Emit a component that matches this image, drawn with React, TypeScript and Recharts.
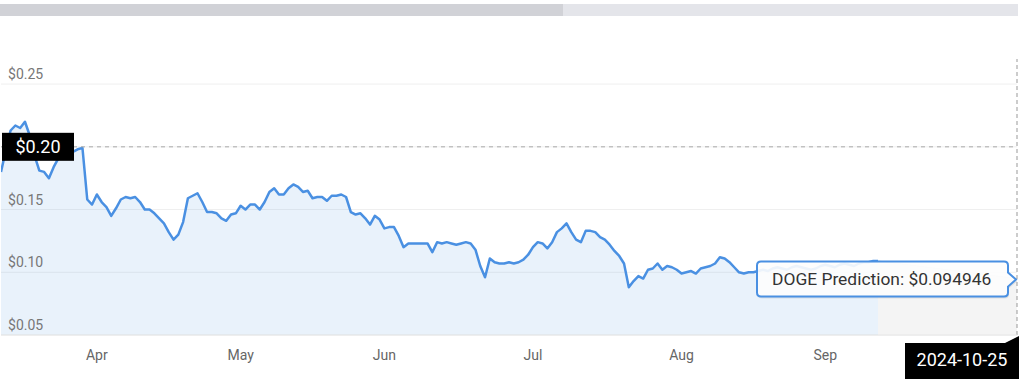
import React from "react";
import {
  Area,
  CartesianGrid,
  ComposedChart,
  ReferenceDot,
  ReferenceLine,
  XAxis,
  YAxis,
} from "recharts";

// daily DOGE closes, starting 2024-03-27
const START_DATE = "2024-03-27";
const END_DATE = "2024-10-25";

const prices = [
  0.180, 0.197, 0.213, 0.217, 0.215, 0.220, 0.209, 0.193, 0.181, 0.180,
  0.175, 0.184, 0.191, 0.193, 0.197, 0.196, 0.198, 0.199, 0.158, 0.154,
  0.162, 0.156, 0.152, 0.145, 0.151, 0.158, 0.160, 0.159, 0.160, 0.156,
  0.150, 0.150, 0.147, 0.143, 0.139, 0.132, 0.126, 0.130, 0.140, 0.159,
  0.161, 0.163, 0.156, 0.148, 0.148, 0.147, 0.143, 0.141, 0.146, 0.147,
  0.153, 0.150, 0.154, 0.154, 0.150, 0.156, 0.164, 0.167, 0.162, 0.162,
  0.167, 0.170, 0.168, 0.164, 0.165, 0.159, 0.160, 0.160, 0.157, 0.161,
  0.161, 0.162, 0.160, 0.148, 0.146, 0.147, 0.143, 0.138, 0.145, 0.142,
  0.135, 0.136, 0.136, 0.129, 0.120, 0.123, 0.123, 0.123, 0.123, 0.123,
  0.116, 0.124, 0.123, 0.124, 0.123, 0.122, 0.123, 0.124, 0.123, 0.118,
  0.105, 0.096, 0.111, 0.108, 0.107, 0.107, 0.108, 0.107, 0.108, 0.110,
  0.114, 0.120, 0.124, 0.123, 0.119, 0.124, 0.132, 0.135, 0.139, 0.132,
  0.126, 0.124, 0.133, 0.133, 0.132, 0.128, 0.126, 0.122, 0.117, 0.113,
  0.107, 0.088, 0.093, 0.097, 0.095, 0.102, 0.103, 0.107, 0.102, 0.105,
  0.104, 0.102, 0.099, 0.100, 0.101, 0.099, 0.103, 0.104, 0.105, 0.107,
  0.112, 0.111, 0.108, 0.104, 0.100, 0.099, 0.100, 0.100, 0.101, 0.102,
  0.101, 0.103, 0.104, 0.103, 0.102, 0.104, 0.105, 0.104, 0.103, 0.102,
  0.103, 0.105, 0.106, 0.105, 0.104, 0.106, 0.107, 0.106, 0.105, 0.107,
  0.108, 0.108, 0.109, 0.109,
];

// forecast segment (grey band behind the prediction bubble)
const forecastDates = ["2024-09-26", "2024-10-25"];
const forecastValues = [0.109, 0.094946];

const monthTicks = ["2024-04-16", "2024-05-16", "2024-06-15", "2024-07-16", "2024-08-16", "2024-09-15"];
const monthLabels = ["Apr", "May", "Jun", "Jul", "Aug", "Sep"];
const priceTicks = [0.05, 0.1, 0.15, 0.2, 0.25];

const PREDICTION = 0.094946;
const CROSSHAIR_PRICE = 0.2;

const DAY = 86400000;
const ts = (d: string) => Date.parse(d + "T00:00:00Z");
const startTs = ts(START_DATE);
const endTs = ts(END_DATE);

const data: { t: number; price?: number; forecast?: number }[] = prices.map((p, i) => ({
  t: startTs + i * DAY,
  price: p,
}));
forecastDates.forEach((d, i) => {
  const t = ts(d);
  const row = data.find((r) => r.t === t);
  if (row) row.forecast = forecastValues[i];
  else data.push({ t, forecast: forecastValues[i] });
});
const monthTickTs = monthTicks.map(ts);

const FONT = "Roboto, 'Noto Sans', sans-serif";
const BLUE = "#4a90e2";

function MonthTick({ x, y, payload }: any) {
  const i = monthTickTs.indexOf(payload.value);
  return (
    <text x={x} y={y + 17} textAnchor="middle" fill="#666" fontSize={14} fontFamily={FONT}>
      {monthLabels[i]}
    </text>
  );
}

function PriceTick({ y, payload }: any) {
  if (payload.value === CROSSHAIR_PRICE) return <g />;
  return (
    <text x={8} y={y - 5} fill="#777" fontSize={14} fontFamily={FONT}>
      ${payload.value.toFixed(2)}
    </text>
  );
}

function PriceBadge({ viewBox }: any) {
  const { x, y } = viewBox;
  return (
    <g>
      <rect x={x + 1} y={y - 14} width={72} height={28} fill="#000" />
      <text x={x + 37} y={y + 6} textAnchor="middle" fill="#fff" fontSize={18} fontFamily={FONT}>
        ${CROSSHAIR_PRICE.toFixed(2)}
      </text>
    </g>
  );
}

function DateBadge({ viewBox }: any) {
  const { x, y, height } = viewBox;
  const top = y + height + 8;
  return (
    <g>
      <path d={`M${x - 12} ${top} L${x + 2} ${top - 7} L${x + 2} ${top} Z`} fill="#000" />
      <rect x={x - 112} y={top} width={114} height={36} fill="#000" />
      <text x={x - 55} y={top + 23} textAnchor="middle" fill="#fff" fontSize={18} fontFamily={FONT}>
        {END_DATE}
      </text>
    </g>
  );
}

function PredictionBubble({ viewBox }: any) {
  const cx = viewBox.x + viewBox.width / 2;
  const cy = viewBox.y + viewBox.height / 2;
  const r = 4;
  const L = cx - 260;
  const R = cx - 9;
  const T = cy - 17;
  const B = cy + 18;
  const d = `M${L + r} ${T} H${R - r} Q${R} ${T} ${R} ${T + r} V${cy - 6} L${cx - 1} ${cy + 1} L${R} ${cy + 8} V${B - r} Q${R} ${B} ${R - r} ${B} H${L + r} Q${L} ${B} ${L} ${B - r} V${T + r} Q${L} ${T} ${L + r} ${T} Z`;
  return (
    <g>
      <path d={d} fill="rgba(0,0,0,0.08)" transform="translate(1,2)" />
      <path d={d} fill="rgba(255,255,255,0.9)" stroke={BLUE} strokeWidth={2} />
      <text x={L + 15} y={cy + 6} fill="#333" fontSize={17.4} fontFamily={FONT}>
        DOGE Prediction: ${PREDICTION}
      </text>
    </g>
  );
}

export default function App() {
  return (
    <div style={{ position: "absolute", left: 0, top: 0, width: 1024, height: 380, background: "#fff" }}>
      <div style={{ position: "absolute", left: 0, top: 4, width: 563, height: 12, background: "#d1d2d7" }} />
      <div style={{ position: "absolute", left: 563, top: 4, width: 455, height: 12, background: "#e4e5ea" }} />
      <div style={{ position: "absolute", left: 0, top: 0 }}>
        <ComposedChart
          width={1024}
          height={380}
          data={data}
          margin={{ top: 59, right: 7, bottom: 0, left: 0 }}
        >
          <CartesianGrid vertical={false} stroke="#efefef" horizontalValues={priceTicks} />
          <XAxis
            dataKey="t"
            type="number"
            domain={[startTs, endTs]}
            ticks={monthTickTs}
            tick={<MonthTick />}
            tickLine={false}
            axisLine={{ stroke: "#e6e6e6" }}
            height={45}
            allowDataOverflow
          />
          <YAxis
            domain={[0.05, 0.27]}
            ticks={priceTicks}
            tick={<PriceTick />}
            tickLine={false}
            axisLine={false}
            width={1}
            allowDataOverflow
          />
          <Area
            type="linear"
            dataKey="forecast"
            stroke="#e2e2e2"
            strokeWidth={1}
            fill="#f4f4f4"
            fillOpacity={1}
            dot={false}
            activeDot={false}
            connectNulls
            isAnimationActive={false}
          />
          <Area
            type="linear"
            dataKey="price"
            stroke={BLUE}
            strokeWidth={2.5}
            strokeLinejoin="round"
            fill={BLUE}
            fillOpacity={0.12}
            dot={false}
            activeDot={false}
            isAnimationActive={false}
          />
          <ReferenceLine y={CROSSHAIR_PRICE} stroke="#aaa" strokeDasharray="4 4" label={<PriceBadge />} />
          <ReferenceLine x={endTs} stroke="#999" strokeDasharray="4 3" label={<DateBadge />} />
          <ReferenceDot x={endTs} y={PREDICTION} r={1} fill="none" stroke="none" label={<PredictionBubble />} />
        </ComposedChart>
      </div>
    </div>
  );
}
